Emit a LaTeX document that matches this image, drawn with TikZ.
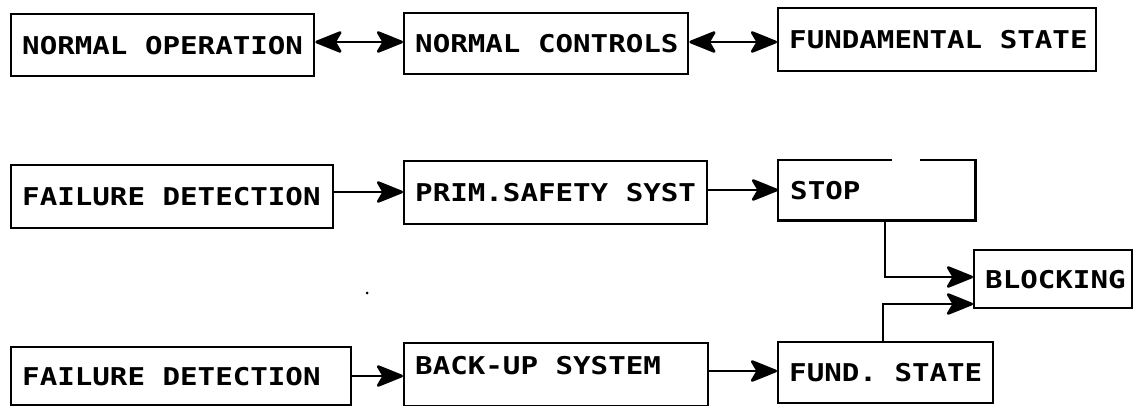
\documentclass[tikz,border=0pt]{standalone}
\usepackage{fontspec}
\newfontfamily\plotfont[FakeStretch=1.19]{DejaVu Sans Mono Bold}
\newcommand\plotgap{\hphantom{N}}
\usetikzlibrary{arrows.meta}

\begin{document}
\begin{tikzpicture}[x=1pt,y=-1pt,
  frame/.style={line width=2.4pt, line join=miter},
  box/.style={frame, draw, anchor=north west, inner xsep=11pt, inner ysep=0pt,
    align=left, font=\plotfont\fontsize{24.5}{26}\selectfont},
  openbox/.style={box, draw=none},
  conn/.style={line width=2.7pt, -{Stealth[length=30pt,width=24pt,inset=7pt,round]}},
  dbl/.style={line width=2.7pt, {Stealth[length=30pt,width=24pt,inset=7pt,round]}-{Stealth[length=30pt,width=24pt,inset=7pt,round]}}]

\useasboundingbox (0,0) rectangle (1134,406);

% upper chain: normal operation
\node[box, minimum height=62pt, text width=281pt] (no) at (10,13) {NORMAL\plotgap OPERATION};
\node[box, minimum height=61pt, text width=262pt] (nc) at (403,12) {NORMAL\plotgap CONTROLS};
\node[box, minimum height=63pt, text width=296pt] (fs) at (777,7) {FUNDAMENTAL\plotgap STATE};

% primary safety chain
\node[box, minimum height=63pt, text width=300pt] (fd1) at (10,164) {FAILURE\plotgap DETECTION};
\node[box, minimum height=63pt, text width=281pt] (ps) at (403,160) {PRIM.SAFETY\plotgap SYST};
\node[openbox, minimum height=58pt, text width=173pt] (stop) at (778,160) {STOP};

% blocking
\node[box, minimum height=58pt, text width=136pt] (blk) at (973,249) {BLOCKING};

% back-up chain
\node[box, minimum height=58pt, text width=318pt] (fd2) at (10,346) {FAILURE\plotgap DETECTION};
\node[box, minimum height=63pt, text width=282pt] (bu) at (403,342) {\raisebox{18pt}{BACK-UP\plotgap SYSTEM}};
\node[box, minimum height=61pt, text width=193pt] (fund) at (777,341) {FUND.\plotgap STATE};

% STOP frame with the break in its top edge
\coordinate (gapL) at (892,0);
\coordinate (gapR) at (920,0);
\draw[frame] (stop.north -| gapL) -- (stop.north west) -- (stop.south west)
  -- (stop.south east) -- (stop.north east) -- (stop.north -| gapR);

% connector levels
\coordinate (r1) at (0,42);
\coordinate (r2a) at (0,192);
\coordinate (r2b) at (0,190);
\coordinate (r3a) at (0,376);
\coordinate (r3b) at (0,371);
\coordinate (bendA) at (885,277);
\coordinate (bendB) at (883,304);

\draw[dbl] (no.east |- r1) -- (nc.west |- r1);
\draw[dbl] (nc.east |- r1) -- (fs.west |- r1);

\draw[conn] (fd1.east |- r2a) -- (ps.west |- r2a);
\draw[conn] (ps.east |- r2b) -- (stop.west |- r2b);

\draw[conn] (fd2.east |- r3a) -- (bu.west |- r3a);
\draw[conn] (bu.east |- r3b) -- (fund.west |- r3b);

\draw[conn] (stop.south -| bendA) |- (blk.west |- bendA);
\draw[conn] (fund.north -| bendB) |- (blk.west |- bendB);

% small speck between the lower rows
\fill (367,293) circle (1.5pt);
\end{tikzpicture}
\end{document}
